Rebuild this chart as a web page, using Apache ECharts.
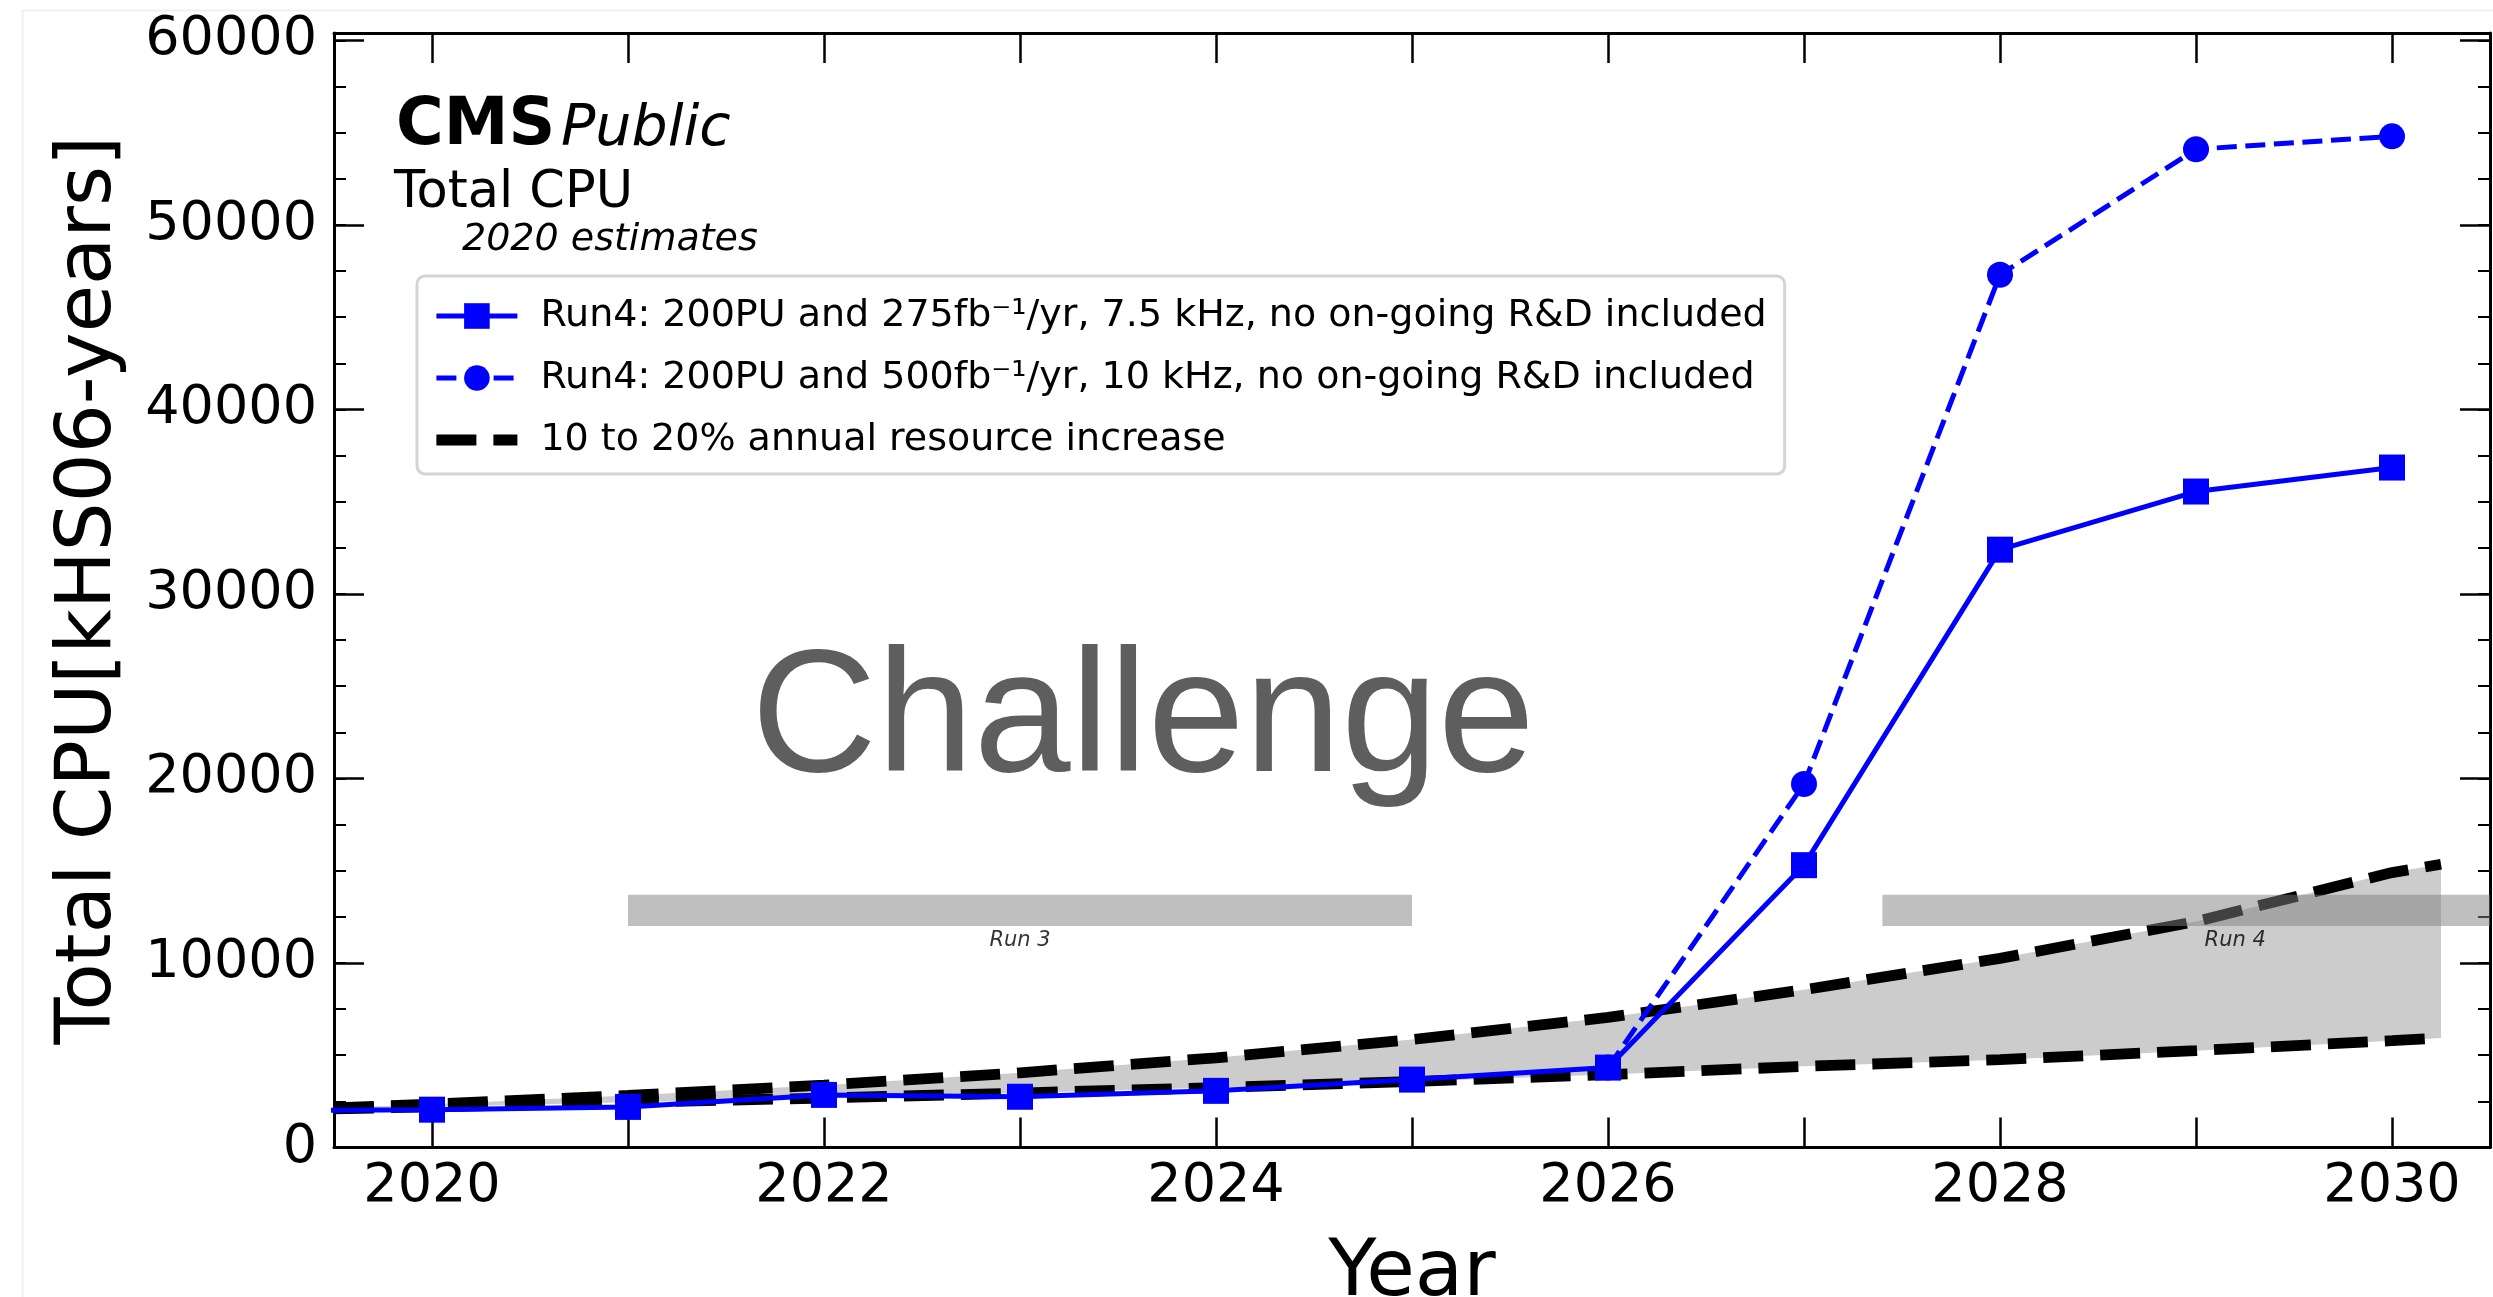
<!DOCTYPE html>
<html>
<head>
<meta charset="utf-8">
<title>Total CPU - 2020 estimates</title>
<script src="https://cdn.jsdelivr.net/npm/echarts@6/dist/echarts.min.js"></script>
<style>
  html, body { margin: 0; padding: 0; background: #ffffff; }
  #chart { width: 2493px; height: 1297px; }
</style>
</head>
<body>
<div id="chart"></div>
<script>
// ---- data -------------------------------------------------------------
// Run4 scenario with 275 fb^-1/yr, 7.5 kHz (kHS06-years)
const years275 = [2019, 2020, 2021, 2022, 2023, 2024, 2025, 2026, 2027, 2028, 2029, 2030];
const cpu275   = [2000, 2050, 2200, 2850, 2750, 3070, 3680, 4330, 15300, 32400, 35550, 36850];

// Run4 scenario with 500 fb^-1/yr, 10 kHz
const years500 = [2026, 2027, 2028, 2029, 2030];
const cpu500   = [4330, 19700, 47300, 54100, 54800];

// Flat-budget envelope: 10% (lower) and 20% (upper) annual growth
const bandYears = [2019.5, 2020, 2021, 2022, 2023, 2024, 2025, 2026, 2027, 2028, 2029, 2030, 2030.25];
const band10    = [2100, 2200, 2450, 2680, 2950, 3250, 3580, 3950, 4400, 4760, 5250, 5790, 5930];
const band20    = [2150, 2350, 2820, 3380, 4050, 4860, 5850, 7050, 8550, 10250, 12250, 14900, 15350];

// LHC run periods
const runNames     = ['Run 3', 'Run 4'];
const runStart     = [2021, 2027.4];
const runEnd       = [2025, 2031];
const runLow       = [12000, 12000];
const runHigh      = [13700, 13700];
const runLabelYear = [2023, 2029.2];

// axis ticks
const yTickStep = 10000;
const yMinorStep = 2500;

const NAME_275  = 'Run4: 200PU and 275fb\u207B\u00B9/yr, 7.5 kHz, no on-going R&D included';
const NAME_500  = 'Run4: 200PU and 500fb\u207B\u00B9/yr, 10 kHz, no on-going R&D included';
const NAME_BAND = '10 to 20% annual resource increase';

// ---- chart ------------------------------------------------------------
const FONT = 'DejaVu Sans';
const BLUE = '#0000ff';
const X_MIN = 2019.5, X_MAX = 2030.5;
const Y_MIN = 0, Y_MAX = 60400;
const BAND_DASH = [40, 17];
const BLUE_DASH = [20, 8.6];

const chart = echarts.init(document.getElementById('chart'), null, { renderer: 'canvas' });

const majorTick = { show: true, inside: true, length: 30, lineStyle: { color: '#000', width: 2.5 } };
const minorTick = { show: true, inside: true, length: 12, lineStyle: { color: '#000', width: 2 } };
const frameLine = { show: true, onZero: false, lineStyle: { color: '#000', width: 3 } };

function xAxisDef(position, withLabels) {
  return {
    type: 'value', position: position, min: X_MIN, max: X_MAX,
    minInterval: 1, maxInterval: 1, splitNumber: 11,
    axisLine: frameLine, axisTick: majorTick, splitLine: { show: false },
    axisLabel: withLabels ? {
      show: true, margin: 12, fontFamily: FONT, fontSize: 54, color: '#000',
      formatter: v => (Number.isInteger(v) && v % 2 === 0) ? String(v) : ''
    } : { show: false }
  };
}

function yAxisDef(position, step, tick, withLine, withLabels) {
  return {
    type: 'value', position: position, min: Y_MIN, max: Y_MAX, interval: step,
    axisLine: withLine ? frameLine : { show: false },
    axisTick: tick, splitLine: { show: false },
    axisLabel: withLabels ? {
      show: true, margin: 17, fontFamily: FONT, fontSize: 54, color: '#000',
      formatter: v => (v % yTickStep === 0) ? String(v) : ''
    } : { show: false }
  };
}

const yMain = yAxisDef('left', yTickStep, majorTick, true, true);
yMain.name = 'Total CPU[kHS06-years]';
yMain.nameLocation = 'middle';
yMain.nameGap = 206;
yMain.nameTextStyle = { fontFamily: FONT, fontSize: 77, color: '#000' };

const xMain = xAxisDef('bottom', true);
xMain.name = 'Year';
xMain.nameLocation = 'middle';
xMain.nameGap = 87;
xMain.nameTextStyle = { fontFamily: FONT, fontSize: 79, color: '#000' };

const option = {
  animation: false,
  backgroundColor: '#ffffff',
  grid: { left: 334, right: 3, top: 33, bottom: 149.5, containLabel: false, outerBoundsMode: 'none' },
  xAxis: [xMain, xAxisDef('top', false)],
  yAxis: [
    yMain,
    yAxisDef('left', yMinorStep, minorTick, false, false),
    yAxisDef('right', yTickStep, majorTick, true, false),
    yAxisDef('right', yMinorStep, minorTick, false, false)
  ],
  legend: {
    show: true,
    orient: 'vertical',
    left: 417, top: 276,
    padding: [21, 18, 15, 14],
    itemGap: 24,
    itemWidth: 81, itemHeight: 32,
    selectedMode: false,
    backgroundColor: 'rgba(255,255,255,0.8)',
    borderColor: '#d4d4d4', borderWidth: 3, borderRadius: 8,
    textStyle: { fontFamily: FONT, fontSize: 38, color: '#000', padding: [0, 0, 0, 18] },
    data: [
      { name: NAME_275, lineStyle: { width: 5, color: BLUE, type: 'solid' } },
      { name: NAME_500, lineStyle: { width: 5, color: BLUE, type: BLUE_DASH } },
      { name: NAME_BAND, lineStyle: { width: 10.8, color: '#000', type: BAND_DASH } }
    ]
  },
  graphic: [
    { type: 'rect', silent: true, z: -10, left: 20, top: 8,
      shape: { width: 2600, height: 1400 }, style: { fill: 'none', stroke: '#f0f0f0', lineWidth: 2 } },
    { type: 'text', x: 396, y: 127, z: 50,
      style: { text: 'CMS', fontFamily: FONT, fontWeight: 'bold', fontSize: 65, fill: '#000', verticalAlign: 'middle' } },
    { type: 'text', x: 561, y: 130, z: 50,
      style: { text: 'Public', fontFamily: FONT, fontStyle: 'italic', fontSize: 57, fill: '#000', verticalAlign: 'middle' } },
    { type: 'text', x: 394, y: 194, z: 50,
      style: { text: 'Total CPU', fontFamily: FONT, fontSize: 51, fill: '#000', verticalAlign: 'middle' } },
    { type: 'text', x: 462, y: 240, z: 50,
      style: { text: '2020 estimates', fontFamily: FONT, fontStyle: 'italic', fontSize: 38, fill: '#000', verticalAlign: 'middle' } },
    { type: 'text', x: 1143, y: 723, z: 50,
      style: { text: 'Challenge', fontFamily: 'Liberation Sans', fontSize: 174, fill: '#5e5e5e', align: 'center', verticalAlign: 'middle' } }
  ],
  series: [
    {
      // shaded envelope between the 10% and 20% growth curves
      type: 'custom', name: 'envelope', clip: true, silent: true, z: 1,
      data: bandYears.map((x, i) => [x, band10[i], band20[i]]),
      encode: { x: 0, y: [1, 2] },
      renderItem: (params, api) => {
        if (params.dataIndex !== 0) return null;
        const pts = [];
        for (let i = 0; i < bandYears.length; i++) pts.push(api.coord([bandYears[i], band20[i]]));
        for (let i = bandYears.length - 1; i >= 0; i--) pts.push(api.coord([bandYears[i], band10[i]]));
        return { type: 'polygon', shape: { points: pts }, style: { fill: '#cccccc' } };
      }
    },
    {
      type: 'line', name: NAME_BAND, z: 2, symbol: 'none', silent: true,
      itemStyle: { color: 'rgba(0,0,0,0)' },
      lineStyle: { color: '#000', width: 10.8, type: BAND_DASH },
      data: bandYears.map((x, i) => [x, band10[i]])
    },
    {
      type: 'line', name: NAME_BAND, z: 2, symbol: 'none', silent: true,
      itemStyle: { color: 'rgba(0,0,0,0)' },
      lineStyle: { color: '#000', width: 10.8, type: BAND_DASH },
      data: bandYears.map((x, i) => [x, band20[i]])
    },
    {
      // run period bars
      type: 'custom', name: 'runs', clip: true, silent: true, z: 3,
      data: runNames.map((n, i) => [runStart[i], runEnd[i], runLow[i], runHigh[i]]),
      encode: { x: [0, 1], y: [2, 3] },
      renderItem: (params, api) => {
        const a = api.coord([api.value(0), api.value(3)]);
        const b = api.coord([api.value(1), api.value(2)]);
        return { type: 'rect', shape: { x: a[0], y: a[1], width: b[0] - a[0], height: b[1] - a[1] },
                 style: { fill: 'rgba(128,128,128,0.5)' } };
      }
    },
    {
      // run period captions
      type: 'scatter', name: 'runLabels', silent: true, z: 6,
      symbolSize: 1, itemStyle: { color: 'rgba(0,0,0,0)' },
      data: runNames.map((n, i) => ({ name: n, value: [runLabelYear[i], runLow[i]] })),
      label: { show: true, position: 'bottom', distance: 3, formatter: '{b}',
               fontFamily: FONT, fontStyle: 'italic', fontSize: 21, color: '#000' }
    },
    {
      type: 'line', name: NAME_500, z: 4, silent: true,
      symbol: 'circle', symbolSize: 26, showSymbol: true,
      itemStyle: { color: BLUE },
      lineStyle: { color: BLUE, width: 5, type: BLUE_DASH },
      data: years500.map((x, i) => [x, cpu500[i]])
    },
    {
      type: 'line', name: NAME_275, z: 5, silent: true,
      symbol: 'rect', symbolSize: 26, showSymbol: true,
      itemStyle: { color: BLUE },
      lineStyle: { color: BLUE, width: 5 },
      data: years275.map((x, i) => [x, cpu275[i]])
    }
  ]
};

chart.setOption(option);
</script>
</body>
</html>
